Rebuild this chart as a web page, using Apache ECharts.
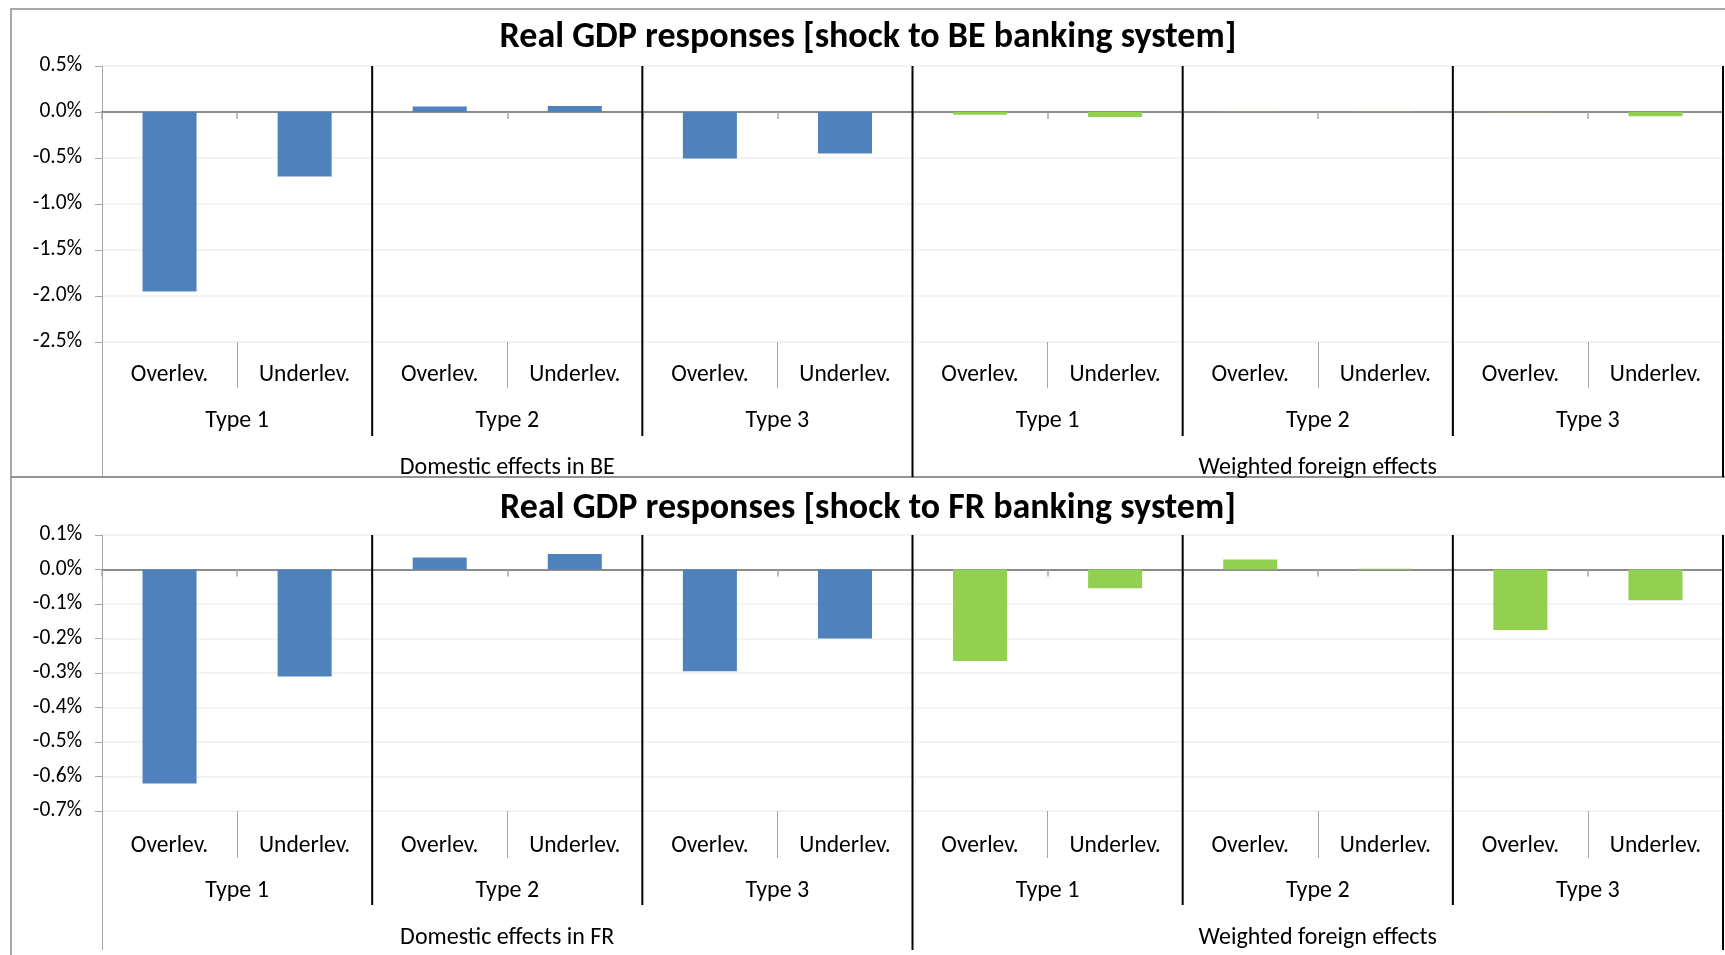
<!DOCTYPE html>
<html>
<head>
<meta charset="utf-8">
<script src="https://cdn.jsdelivr.net/npm/echarts@6/dist/echarts.min.js"></script>
<style>
  html, body { margin: 0; padding: 0; background: #ffffff; }
  #chart { width: 1725px; height: 955px; }
</style>
</head>
<body>
<div id="chart"></div>
<script>
// ---- data -------------------------------------------------------------
const leverage = ['Overlev.', 'Underlev.'];
const shockTypes = ['Type 1', 'Type 2', 'Type 3'];
const regionsBE = ['Domestic effects in BE', 'Weighted foreign effects'];
const regionsFR = ['Domestic effects in FR', 'Weighted foreign effects'];
const titleBE = 'Real GDP responses [shock to BE banking system]';
const titleFR = 'Real GDP responses [shock to FR banking system]';

// Real GDP response in %; order: Type 1 over/under, Type 2 over/under, Type 3 over/under
const domesticBE = [-1.95, -0.70, 0.06, 0.065, -0.505, -0.45];
const foreignBE  = [-0.03, -0.055, 0.004, 0.003, -0.004, -0.045];
const domesticFR = [-0.62, -0.31, 0.035, 0.045, -0.295, -0.20];
const foreignFR  = [-0.265, -0.054, 0.029, 0.002, -0.175, -0.089];

// value-axis ticks (in %)
const ticksBE = [-2.5, -2.0, -1.5, -1.0, -0.5, 0.0, 0.5];
const ticksFR = [-0.7, -0.6, -0.5, -0.4, -0.3, -0.2, -0.1, 0.0, 0.1];

// ---- styling ----------------------------------------------------------
const FONT = 'Carlito, Lato, "Open Sans", sans-serif';
const BLUE = '#4f81bd';
const GREEN = '#92d050';
const GRID_LINE = '#efefef';
const AXIS_GREY = '#a6a6a6';
const ZERO_GREY = '#8c8c8c';

const chart = echarts.init(document.getElementById('chart'), null, { renderer: 'canvas' });

// category layers of the three-level axis
const leverageCats = [];
const typeCats = [];
for (let r = 0; r < 2; r++) {
  for (const t of shockTypes) {
    typeCats.push(t);
    for (const l of leverage) leverageCats.push(l);
  }
}

const panels = [
  { title: titleBE, regions: regionsBE, domestic: domesticBE, foreign: foreignBE, ticks: ticksBE,
    top: 66, titleY: 38, boxTop: 9, boxBottom: 477,
    levLabel: 33, levTick: 46, typeLabel: 79, typeTick: 94, regionLabel: 126, regionTick: 135 },
  { title: titleFR, regions: regionsFR, domestic: domesticFR, foreign: foreignFR, ticks: ticksFR,
    top: 535, titleY: 509, boxTop: 477, boxBottom: 958,
    levLabel: 35, levTick: 47, typeLabel: 80, typeTick: 94, regionLabel: 127, regionTick: 139 }
];

const grids = [];
const xAxes = [];
const yAxes = [];
const series = [];
const graphics = [];

panels.forEach((p, gi) => {
  grids.push({ left: 102, top: p.top, width: 1621, height: 276, containLabel: false });

  const step = Math.round((p.ticks[1] - p.ticks[0]) * 1000) / 1000;
  yAxes.push({
    type: 'value', gridIndex: gi,
    min: p.ticks[0], max: p.ticks[p.ticks.length - 1], interval: step,
    axisLine: { show: true, lineStyle: { color: AXIS_GREY, width: 1 } },
    axisTick: { show: true, length: 7, lineStyle: { color: AXIS_GREY } },
    axisLabel: {
      margin: 20, color: '#000', fontFamily: FONT, fontSize: 21.5,
      formatter: v => v.toFixed(1) + '%'
    },
    splitLine: { show: true, lineStyle: { color: GRID_LINE, width: 1.5 } }
  });

  const base = xAxes.length;
  // zero line with short ticks at the category borders
  xAxes.push({
    type: 'category', gridIndex: gi, data: leverageCats, position: 'bottom',
    axisLine: { show: true, onZero: true, onZeroAxisIndex: gi, lineStyle: { color: ZERO_GREY, width: 2 } },
    axisTick: { show: true, length: 7, lineStyle: { color: AXIS_GREY, width: 1.5 } },
    axisLabel: { show: false }, splitLine: { show: false }
  });
  // first label level: leverage
  xAxes.push({
    type: 'category', gridIndex: gi, data: leverageCats, position: 'bottom',
    axisLine: { show: false, onZero: false },
    axisTick: { show: true, length: p.levTick, lineStyle: { color: AXIS_GREY, width: 1 } },
    axisLabel: { show: true, interval: 0, margin: p.levLabel, verticalAlign: 'middle',
      color: '#000', fontFamily: FONT, fontSize: 23.5 },
    splitLine: { show: false }
  });
  // second label level: shock type
  xAxes.push({
    type: 'category', gridIndex: gi, data: typeCats, position: 'bottom',
    axisLine: { show: false, onZero: false },
    axisTick: { show: true, length: p.typeTick, lineStyle: { color: AXIS_GREY, width: 1 } },
    axisLabel: { show: true, interval: 0, margin: p.typeLabel, verticalAlign: 'middle',
      color: '#000', fontFamily: FONT, fontSize: 24 },
    splitLine: { show: false }
  });
  // third label level: region
  xAxes.push({
    type: 'category', gridIndex: gi, data: p.regions, position: 'bottom',
    axisLine: { show: false, onZero: false },
    axisTick: { show: true, length: p.regionTick, lineStyle: { color: AXIS_GREY, width: 1 } },
    axisLabel: { show: true, interval: 0, margin: p.regionLabel, verticalAlign: 'middle',
      color: '#000', fontFamily: FONT, fontSize: 24 },
    splitLine: { show: false }
  });

  const values = p.domestic.concat(p.foreign);
  series.push({
    type: 'bar', xAxisIndex: base, yAxisIndex: gi, barWidth: '40%',
    data: values.map((v, i) => ({ value: v, itemStyle: { color: i < p.domestic.length ? BLUE : GREEN } })),
    z: 3
  });

  // black dividers after each shock-type group; region borders run down to the frame
  const regionTick = p.regionTick, typeTick = p.typeTick;
  series.push({
    type: 'custom', xAxisIndex: base, yAxisIndex: gi, clip: false, silent: true, z: 5,
    data: [1, 3, 5, 7, 9, 11].map(i => [i, 0]),
    encode: { x: 0, y: 1 },
    renderItem: (params, api) => {
      const idx = api.value(0);
      const band = api.size([1, 0])[0];
      const x = api.coord([idx, 0])[0] + band / 2;
      const cs = params.coordSys;
      const depth = (idx + 1) % 6 === 0 ? regionTick : typeTick;
      return {
        type: 'line',
        shape: { x1: x, y1: cs.y, x2: x, y2: cs.y + cs.height + depth },
        style: { stroke: '#000', lineWidth: 2 }
      };
    }
  });

  // chart frame and title
  graphics.push({
    type: 'rect', z: 0, silent: true,
    shape: { x: 11, y: p.boxTop, width: 1730, height: p.boxBottom - p.boxTop },
    style: { fill: 'none', stroke: '#8c8c8c', lineWidth: 1.5 }
  });
  graphics.push({
    type: 'text', z: 10, silent: true, x: 868, y: p.titleY,
    style: { text: p.title, fontFamily: FONT, fontSize: 36, fontWeight: 'bold',
      fill: '#000', align: 'center', verticalAlign: 'middle' }
  });
});

chart.setOption({
  animation: false,
  backgroundColor: '#ffffff',
  grid: grids,
  xAxis: xAxes,
  yAxis: yAxes,
  series: series,
  graphic: graphics
});
</script>
</body>
</html>
